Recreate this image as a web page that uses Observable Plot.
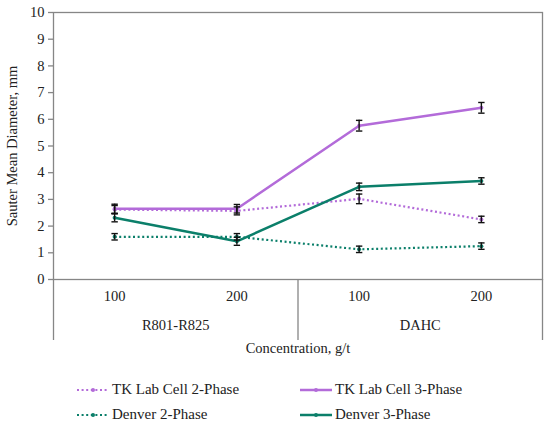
<!DOCTYPE html>
<html>
<head>
<meta charset="utf-8">
<script src="https://cdn.jsdelivr.net/npm/d3@7"></script>
<script src="https://cdn.jsdelivr.net/npm/@observablehq/plot@0.6"></script>
<style>
  body { margin: 0; background: white; font-family: "Liberation Serif", serif; color: #222; }
  #chart svg { display: block; }
  .legend { padding-top: 9px; position: relative; width: 550px; }
  .row { height: 25px; position: relative; }
  .item { position: absolute; top: 0; height: 25px; display: flex; align-items: center; font-size: 15px; }
  .item svg { margin-right: 3px; }
</style>
</head>
<body>
<div id="chart"></div>
<div class="legend" id="legend"></div>
<script>
// ---- data ----
const categories = ["100", "200", "100", "200"];
const groups = ["R801-R825", "DAHC"];
const seriesNames = ["TK Lab Cell 2-Phase", "TK Lab Cell 3-Phase", "Denver 2-Phase", "Denver 3-Phase"];
const tk2 = [2.62, 2.57, 3.02, 2.25];
const tk2Err = [0.15, 0.15, 0.18, 0.12];
const tk3 = [2.65, 2.65, 5.76, 6.43];
const tk3Err = [0.17, 0.16, 0.2, 0.2];
const den2 = [1.6, 1.6, 1.13, 1.25];
const den2Err = [0.12, 0.12, 0.12, 0.12];
const den3 = [2.31, 1.43, 3.47, 3.69];
const den3Err = [0.15, 0.15, 0.14, 0.12];
const yTicks = [0, 1, 2, 3, 4, 5, 6, 7, 8, 9, 10];

const purple = "#b36bd9";
const green = "#0b7f6a";
const seriesValues = [tk2, tk3, den2, den3];
const seriesErrs = [tk2Err, tk3Err, den2Err, den3Err];
const seriesColors = [purple, purple, green, green];
const seriesDotted = [true, false, true, false];

const rows = [];
seriesNames.forEach((s, k) => {
  seriesValues[k].forEach((v, i) => rows.push({series: s, k, x: i + 0.5, y: v, err: seriesErrs[k][i]}));
});
const catRows = categories.map((c, i) => ({x: i + 0.5, label: c}));
const perGroup = categories.length / groups.length;
const groupRows = groups.map((g, j) => ({x: j * perGroup + perGroup / 2, label: g}));
const dividers = d3.range(0, categories.length + 1, perGroup);

const cap = { draw(context, size) { const r = Math.sqrt(size / Math.PI); context.moveTo(-r, 0); context.lineTo(r, 0); } };
const frameColor = "#868686";
const FF = "'Liberation Serif', 'Times New Roman', serif";
const FS = 14.5;

const lineMarks = [];
seriesNames.forEach((s, k) => {
  const d = rows.filter(r => r.k === k);
  lineMarks.push(Plot.line(d, {
    x: "x", y: "y", stroke: seriesColors[k],
    strokeWidth: seriesDotted[k] ? 2.2 : 2.5,
    strokeDasharray: seriesDotted[k] ? "2 2.6" : null,
    strokeLinecap: "butt"
  }));
  lineMarks.push(Plot.dot(d, {x: "x", y: "y", r: 2, fill: seriesColors[k]}));
});

const plot = Plot.plot({
  width: 550, height: 368,
  marginLeft: 53, marginRight: 8, marginTop: 12, marginBottom: 89,
  style: {fontFamily: FF, fontSize: FS + "px", color: "#222", background: "white"},
  x: {domain: [0, categories.length]},
  y: {domain: [0, 10]},
  marks: [
    Plot.axisY({ticks: yTicks, tickSize: 5, tickPadding: 4, stroke: frameColor, strokeWidth: 1.3, label: null, fontSize: FS}),
    Plot.axisX({ticks: dividers, tickSize: 61, tickFormat: () => "", stroke: frameColor, strokeWidth: 1.3, label: null}),
    Plot.text(catRows, {x: "x", text: "label", frameAnchor: "bottom", dy: 21, fontSize: FS}),
    Plot.text(groupRows, {x: "x", text: "label", frameAnchor: "bottom", dy: 50, fontSize: FS}),
    Plot.text(["Concentration, g/t"], {text: d => d, frameAnchor: "bottom", dy: 73, fontSize: FS}),
    Plot.text(["Sauter Mean Diameter, mm"], {text: d => d, frameAnchor: "left", textAnchor: "middle", dx: -41, rotate: -90, fontSize: FS}),
    ...lineMarks,
    Plot.ruleX(rows, {x: "x", y1: d => d.y - d.err, y2: d => d.y + d.err, stroke: "#111", strokeWidth: 1.4}),
    Plot.dot(rows, {x: "x", y: d => d.y + d.err, symbol: cap, r: 3.2, stroke: "#111", strokeWidth: 1.4, fill: "none"}),
    Plot.dot(rows, {x: "x", y: d => d.y - d.err, symbol: cap, r: 3.2, stroke: "#111", strokeWidth: 1.4, fill: "none"}),
    Plot.frame({stroke: frameColor, strokeWidth: 1.3})
  ]
});
// force serif font on every text node of the chart
d3.select(plot).attr("font-family", FF).style("font-family", FF);
d3.select(plot).selectAll("g, text, tspan").attr("font-family", FF).style("font-family", FF);
document.getElementById("chart").appendChild(plot);

// ---- legend ----
const legend = document.getElementById("legend");
const colLeft = [77, 300];
for (let r = 0; r < 2; r++) {
  const row = document.createElement("div");
  row.className = "row";
  for (let c = 0; c < 2; c++) {
    const k = r * 2 + c;
    const item = document.createElement("div");
    item.className = "item";
    item.style.left = colLeft[c] + "px";
    const dash = seriesDotted[k] ? 'stroke-dasharray="2 2.6"' : "";
    const sw = seriesDotted[k] ? 2 : 2.5;
    item.innerHTML = `<svg width="32" height="10"><line x1="0" x2="32" y1="5" y2="5" stroke="${seriesColors[k]}" stroke-width="${sw}" ${dash}/><circle cx="16" cy="5" r="2" fill="${seriesColors[k]}"/></svg><span>${seriesNames[k]}</span>`;
    row.appendChild(item);
  }
  legend.appendChild(row);
}
</script>
</body>
</html>
